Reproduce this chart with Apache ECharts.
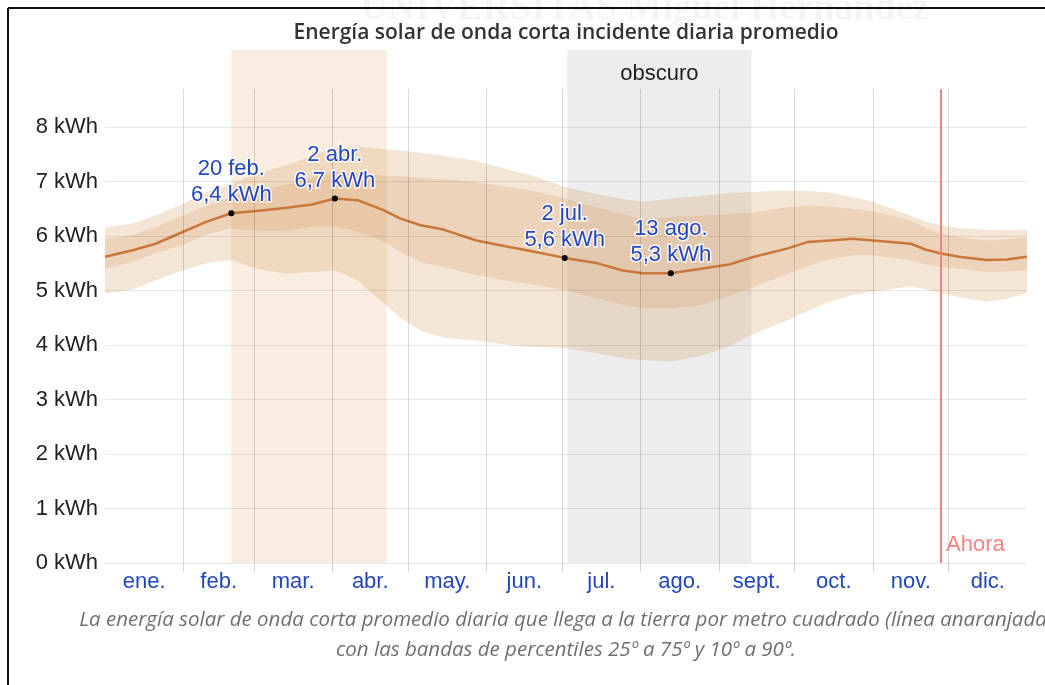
<!DOCTYPE html>
<html>
<head>
<meta charset="utf-8">
<script src="https://cdn.jsdelivr.net/npm/echarts@6/dist/echarts.min.js"></script>
<style>
html,body{margin:0;padding:0;background:#fff;}
#chart{width:1045px;height:685px;}
</style>
</head>
<body>
<div id="chart"></div>
<script>
// ---- data (day of year, 0 = 1 Jan) ----
const days   = [0,11,20,31,40,50,60,72,82,91,100,110,117,125,134,147,160,168,182,195,205,213,224,236,247,257,270,278,287,296,304,319,325,331,338,349,357,365];
const median = [5.62,5.74,5.86,6.08,6.26,6.42,6.46,6.52,6.58,6.69,6.66,6.48,6.32,6.20,6.12,5.92,5.80,5.73,5.60,5.50,5.37,5.32,5.32,5.40,5.48,5.62,5.77,5.89,5.92,5.95,5.92,5.86,5.75,5.68,5.62,5.56,5.57,5.62];
const p10    = [4.95,5.02,5.19,5.37,5.50,5.56,5.40,5.31,5.34,5.37,5.19,4.78,4.50,4.26,4.14,4.08,4.00,3.97,3.94,3.85,3.76,3.72,3.70,3.80,3.98,4.21,4.45,4.62,4.80,4.92,4.98,5.08,5.02,4.95,4.88,4.79,4.85,4.96];
const p25    = [5.40,5.53,5.68,5.84,6.02,6.14,6.10,6.10,6.17,6.18,6.08,5.90,5.70,5.52,5.43,5.28,5.17,5.12,5.01,4.85,4.74,4.67,4.67,4.73,4.90,5.07,5.30,5.45,5.57,5.65,5.65,5.55,5.48,5.43,5.40,5.34,5.35,5.37];
const p75    = [5.95,6.02,6.17,6.38,6.56,6.72,6.82,6.95,7.08,7.18,7.17,7.11,7.10,7.07,7.05,6.99,6.90,6.85,6.69,6.52,6.40,6.32,6.35,6.38,6.40,6.44,6.53,6.56,6.55,6.50,6.46,6.29,6.15,6.05,5.98,5.92,5.94,5.98];
const p90    = [6.16,6.23,6.38,6.60,6.81,6.95,7.15,7.30,7.48,7.62,7.64,7.60,7.57,7.53,7.48,7.38,7.22,7.13,6.90,6.77,6.68,6.63,6.69,6.74,6.79,6.81,6.84,6.83,6.80,6.72,6.63,6.38,6.27,6.20,6.15,6.11,6.11,6.12];

const monthLabels = ['ene.','feb.','mar.','abr.','may.','jun.','jul.','ago.','sept.','oct.','nov.','dic.'];
const monthStarts = [0,31,59,90,120,151,181,212,243,273,304,334,365];
const yTicks = [0,1,2,3,4,5,6,7,8];

const annotDays   = [50, 91, 182, 224];
const annotValues = [6.42, 6.69, 5.60, 5.32];
const annotDates  = ['20 feb.', '2 abr.', '2 jul.', '13 ago.'];
const annotTexts  = ['6,4 kWh', '6,7 kWh', '5,6 kWh', '5,3 kWh'];

const brightBand = [50, 111.5];
const darkBand   = [183, 256];
const darkLabel  = 'obscuro';
const nowDay = 331;
const nowLabel = 'Ahora';

const title = 'Energía solar de onda corta incidente diaria promedio';
const caption1 = 'La energía solar de onda corta promedio diaria que llega a la tierra por metro cuadrado (línea anaranjada)';
const caption2 = 'con las bandas de percentiles 25º a 75º y 10º a 90º.';

// ---- derived ----
const pairs = arr => days.map((d, i) => [d, arr[i]]);
const monthMids = monthLabels.map((m, i) => (monthStarts[i] + monthStarts[i + 1]) / 2);
const innerStarts = monthStarts.slice(1, -1);
const bands = [
  {lo: p10, hi: p25, fill: 'rgba(205,140,70,0.22)'},
  {lo: p25, hi: p75, fill: 'rgba(205,140,70,0.38)'},
  {lo: p75, hi: p90, fill: 'rgba(205,140,70,0.22)'}
];

const FONT = '"Liberation Sans", Arial, sans-serif';
const FS = 22;
const BLUE = '#2346c0';

const chart = echarts.init(document.getElementById('chart'), null, {renderer: 'canvas'});

const option = {
  animation: false,
  backgroundColor: '#fff',
  grid: [
    {left: 105, right: 18, top: 89, bottom: 122, outerBoundsMode: 'none', containLabel: false},
    {left: 105, right: 18, top: 50, bottom: 122, outerBoundsMode: 'none', containLabel: false}
  ],
  xAxis: [
    {
      type: 'value', min: 0, max: 365, gridIndex: 0,
      axisLine: {show: false},
      splitLine: {show: false},
      axisTick: {show: true, customValues: innerStarts, length: 9, lineStyle: {color: '#d4d4d4', width: 1}},
      axisLabel: {
        customValues: monthMids, margin: 8,
        formatter: v => monthLabels[monthMids.indexOf(v)] || '',
        color: BLUE, fontSize: FS, fontFamily: FONT
      }
    },
    {type: 'value', min: 0, max: 365, gridIndex: 1, show: false}
  ],
  yAxis: [
    {
      type: 'value', min: 0, max: 8.7, interval: 1, gridIndex: 0,
      axisLine: {show: false}, axisTick: {show: false},
      splitLine: {show: false},
      axisLabel: {
        margin: 7, color: '#222', fontSize: FS, fontFamily: FONT,
        formatter: v => (Math.abs(v - Math.round(v)) < 1e-6 ? Math.round(v) + ' kWh' : ''),
        showMaxLabel: false
      }
    },
    {type: 'value', min: 0, max: 1, gridIndex: 1, show: false}
  ],
  series: [
    // vertical highlight bands (taller grid)
    {
      type: 'line', xAxisIndex: 1, yAxisIndex: 1, data: [], z: 0, silent: true,
      markArea: {
        silent: true,
        data: [
          [{xAxis: brightBand[0], itemStyle: {color: 'rgba(232,200,160,0.32)'}}, {xAxis: brightBand[1]}],
          [{xAxis: darkBand[0], itemStyle: {color: 'rgba(0,0,0,0.07)'},
            label: {show: true, formatter: darkLabel, position: 'insideTop', distance: 13,
                    color: '#222', fontSize: FS, fontFamily: FONT}},
           {xAxis: darkBand[1]}]
        ]
      }
    },
    // percentile bands
    {
      type: 'custom', z: 2, silent: true,
      data: bands.map((b, i) => [i, 0]),
      encode: {x: 0, y: 1},
      renderItem: (params, api) => {
        const b = bands[params.dataIndex];
        const top = days.map((d, i) => api.coord([d, b.hi[i]]));
        const bot = days.map((d, i) => api.coord([d, b.lo[i]])).reverse();
        return {type: 'polygon', shape: {points: top.concat(bot)}, style: {fill: b.fill, stroke: null}};
      }
    },
    // grid lines
    {
      type: 'line', data: [], z: 3, silent: true,
      markLine: {
        silent: true, symbol: 'none', label: {show: false},
        data: [
          ...yTicks.map(v => ({yAxis: v, lineStyle: {color: 'rgba(0,0,0,0.09)', type: 'solid', width: 1}})),
          ...innerStarts.map(v => ({xAxis: v, lineStyle: {color: 'rgba(0,0,0,0.15)', type: 'solid', width: 1}}))
        ]
      }
    },
    // median
    {
      name: 'median', type: 'line', data: pairs(median), symbol: 'none', z: 4,
      lineStyle: {color: '#c8783a', width: 2.5},
      markPoint: {
        symbol: 'circle', symbolSize: 6,
        itemStyle: {color: '#000'},
        label: {
          show: true, position: 'top', distance: 2,
          color: BLUE, fontSize: FS, lineHeight: 26, fontFamily: FONT,
          textBorderColor: 'rgba(255,255,255,0.85)', textBorderWidth: 3,
          formatter: p => p.name
        },
        data: annotDays.map((d, i) => ({coord: [d, annotValues[i]], name: annotDates[i] + '\n' + annotTexts[i]}))
      }
    },
    // "now" line
    {
      type: 'line', data: [], z: 5, silent: true,
      markLine: {
        silent: true, symbol: 'none',
        label: {show: false},
        lineStyle: {color: '#ff7f7f', type: 'solid', width: 2},
        data: [{xAxis: nowDay}]
      },
      markPoint: {
        symbol: 'circle', symbolSize: 0,
        label: {show: true, position: 'right', distance: 5, offset: [0, -18],
                formatter: nowLabel, color: '#ff8080', fontSize: FS, fontFamily: FONT},
        data: [{coord: [nowDay, 0]}]
      }
    }
  ],
  graphic: [
    {type: 'text', left: 360, top: -10, z: -1, silent: true,
     style: {text: 'UNIVERSITAS Miguel Hernández', fill: 'rgba(0,0,0,0.045)', font: 'bold 38px "Liberation Serif", serif'}},
    {type: 'line', z: 100, shape: {x1: 8, y1: 8, x2: 1045, y2: 8}, style: {stroke: '#111', lineWidth: 2}},
    {type: 'line', z: 100, shape: {x1: 8, y1: 8, x2: 8, y2: 685}, style: {stroke: '#111', lineWidth: 2}},
    {type: 'text', x: 566, y: 33, z: 50,
     style: {text: title, fill: '#333', font: '600 21px "Open Sans", sans-serif', textAlign: 'center', textVerticalAlign: 'middle'}},
    {type: 'text', x: 566, y: 620, z: 50,
     style: {text: caption1, fill: '#6f6f6f', font: 'italic 20.5px "Open Sans", sans-serif', textAlign: 'center', textVerticalAlign: 'middle'}},
    {type: 'text', x: 566, y: 650, z: 50,
     style: {text: caption2, fill: '#6f6f6f', font: 'italic 20.5px "Open Sans", sans-serif', textAlign: 'center', textVerticalAlign: 'middle'}}
  ]
};
chart.setOption(option);
</script>
</body>
</html>
